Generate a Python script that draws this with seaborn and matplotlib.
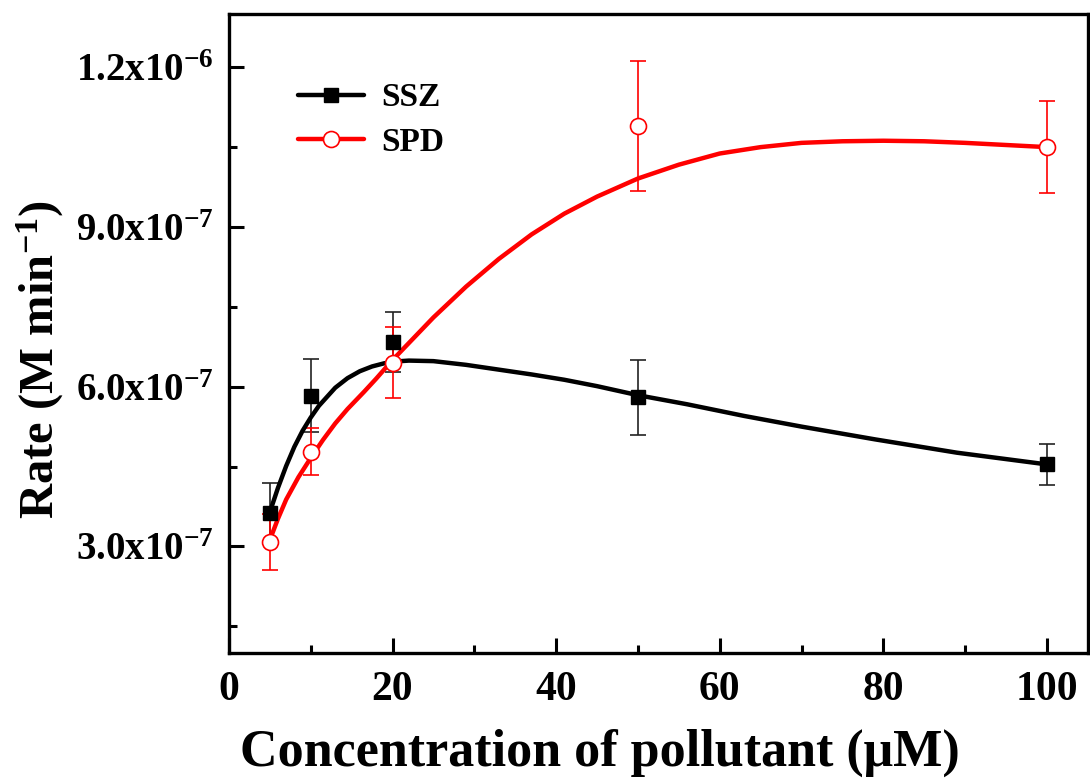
import matplotlib
matplotlib.use("Agg")
import matplotlib.pyplot as plt
import seaborn as sns
import pandas as pd
from matplotlib.lines import Line2D
from matplotlib.ticker import MultipleLocator

# Measured points (concentration in uM, rate in M/min)
conc = [5, 10, 20, 50, 100]
ssz_rate = [3.62e-7, 5.83e-7, 6.84e-7, 5.80e-7, 4.54e-7]
ssz_err = [0.58e-7, 0.69e-7, 0.57e-7, 0.70e-7, 0.39e-7]
spd_rate = [3.08e-7, 4.78e-7, 6.45e-7, 1.089e-6, 1.050e-6]
spd_err = [0.53e-7, 0.44e-7, 0.67e-7, 1.22e-7, 0.86e-7]

# Smoothed fit curves
ssz_fit_x = [5, 6, 7, 8, 9, 10, 11, 13, 14.5, 16, 17.5, 19, 20.5, 22, 25, 29, 33,
             37, 41, 45, 50, 56, 63, 70, 79, 89, 100]
ssz_fit_y = [3.64e-7, 4.10e-7, 4.51e-7, 4.87e-7, 5.17e-7, 5.42e-7, 5.64e-7, 5.98e-7,
             6.16e-7, 6.29e-7, 6.38e-7, 6.44e-7, 6.475e-7, 6.49e-7, 6.48e-7, 6.41e-7,
             6.32e-7, 6.23e-7, 6.13e-7, 6.01e-7, 5.84e-7, 5.67e-7, 5.45e-7, 5.25e-7,
             5.01e-7, 4.76e-7, 4.54e-7]
spd_fit_x = [5, 6, 7, 8.5, 10, 11.5, 13, 14.5, 16.5, 18, 20, 22.5, 25, 29, 33, 37,
             41, 45, 50, 55, 60, 65, 70, 75, 80, 85, 90, 95, 100]
spd_fit_y = [3.12e-7, 3.52e-7, 3.88e-7, 4.30e-7, 4.66e-7, 5.00e-7, 5.31e-7, 5.58e-7,
             5.90e-7, 6.15e-7, 6.50e-7, 6.90e-7, 7.30e-7, 7.88e-7, 8.40e-7, 8.86e-7,
             9.25e-7, 9.57e-7, 9.91e-7, 1.017e-6, 1.038e-6, 1.050e-6, 1.058e-6,
             1.061e-6, 1.062e-6, 1.061e-6, 1.058e-6, 1.054e-6, 1.050e-6]

y_ticks = [3.0e-7, 6.0e-7, 9.0e-7, 1.2e-6]
y_tick_labels = ["3.0x10$^{-7}$", "6.0x10$^{-7}$", "9.0x10$^{-7}$", "1.2x10$^{-6}$"]
x_ticks = [0, 20, 40, 60, 80, 100]

sns.set_theme(style="ticks")
plt.rcParams["font.family"] = ["Liberation Serif", "DejaVu Serif"]
plt.rcParams["font.weight"] = "bold"
plt.rcParams["text.color"] = "black"
plt.rcParams["axes.labelcolor"] = "black"
plt.rcParams["xtick.color"] = "black"
plt.rcParams["ytick.color"] = "black"
plt.rcParams["mathtext.fontset"] = "custom"
plt.rcParams["mathtext.rm"] = "Liberation Serif:bold"
plt.rcParams["mathtext.bf"] = "Liberation Serif:bold"
plt.rcParams["mathtext.it"] = "Liberation Serif:bold"
plt.rcParams["mathtext.default"] = "bf"

fig = plt.figure(figsize=(10.9, 7.8), dpi=100)
ax = fig.add_axes([0.21, 0.163, 0.788, 0.819])

df_ssz = pd.DataFrame({"x": ssz_fit_x, "y": ssz_fit_y})
df_spd = pd.DataFrame({"x": spd_fit_x, "y": spd_fit_y})

# error bars
ax.errorbar(conc, ssz_rate, yerr=ssz_err, fmt="none", ecolor="#222222",
            elinewidth=1.2, capsize=6, capthick=1.2, zorder=2)
ax.errorbar(conc, spd_rate, yerr=spd_err, fmt="none", ecolor="red",
            elinewidth=1.2, capsize=6, capthick=1.2, zorder=2)

# fit curves
sns.lineplot(data=df_ssz, x="x", y="y", color="black", linewidth=3.2, ax=ax,
             sort=False, zorder=3)
sns.lineplot(data=df_spd, x="x", y="y", color="red", linewidth=3.2, ax=ax,
             sort=False, zorder=4)

# markers
ax.plot(conc, ssz_rate, linestyle="none", marker="s", markersize=9.5,
        color="black", zorder=5)
ax.plot(conc, spd_rate, linestyle="none", marker="o", markersize=11.5,
        markerfacecolor="white", markeredgecolor="red", markeredgewidth=1.2, zorder=6)

ax.set_xlim(0, 105)
ax.set_ylim(1.0e-7, 1.3e-6)
ax.set_xticks(x_ticks)
ax.set_xticklabels([str(v) for v in x_ticks])
ax.xaxis.set_minor_locator(MultipleLocator(10))
ax.set_yticks(y_ticks)
ax.set_yticklabels(y_tick_labels)
ax.yaxis.set_minor_locator(MultipleLocator(1.5e-7))

ax.tick_params(axis="x", which="major", direction="in", length=11, width=2.2,
               labelsize=30, pad=13)
ax.tick_params(axis="y", which="major", direction="in", length=11, width=2.2,
               labelsize=28, pad=11)
ax.tick_params(axis="both", which="minor", direction="in", length=6, width=2.2)
for lab in ax.get_xticklabels() + ax.get_yticklabels():
    lab.set_fontweight("bold")
for sp in ax.spines.values():
    sp.set_linewidth(2.4)
    sp.set_color("black")

ax.set_xlabel("Concentration of pollutant (μM)", fontsize=37.5, fontweight="bold")
ax.xaxis.set_label_coords(0.432, -0.118)
ax.set_ylabel("Rate (M min$^{-1}$)", fontsize=35, fontweight="bold")
ax.yaxis.set_label_coords(-0.19, 0.459)

handles = [
    Line2D([], [], color="black", linewidth=3.2, marker="s", markersize=9.5),
    Line2D([], [], color="red", linewidth=3.2, marker="o", markersize=11.5,
           markerfacecolor="white", markeredgecolor="red", markeredgewidth=1.2),
]
ax.legend(handles, ["SSZ", "SPD"], loc="upper left", bbox_to_anchor=(0.045, 0.94),
          frameon=False, prop={"family": "Liberation Serif", "weight": "bold", "size": 24},
          handlelength=2.0, handletextpad=0.5, labelspacing=0.4)

fig.savefig("out.png", dpi=100)
